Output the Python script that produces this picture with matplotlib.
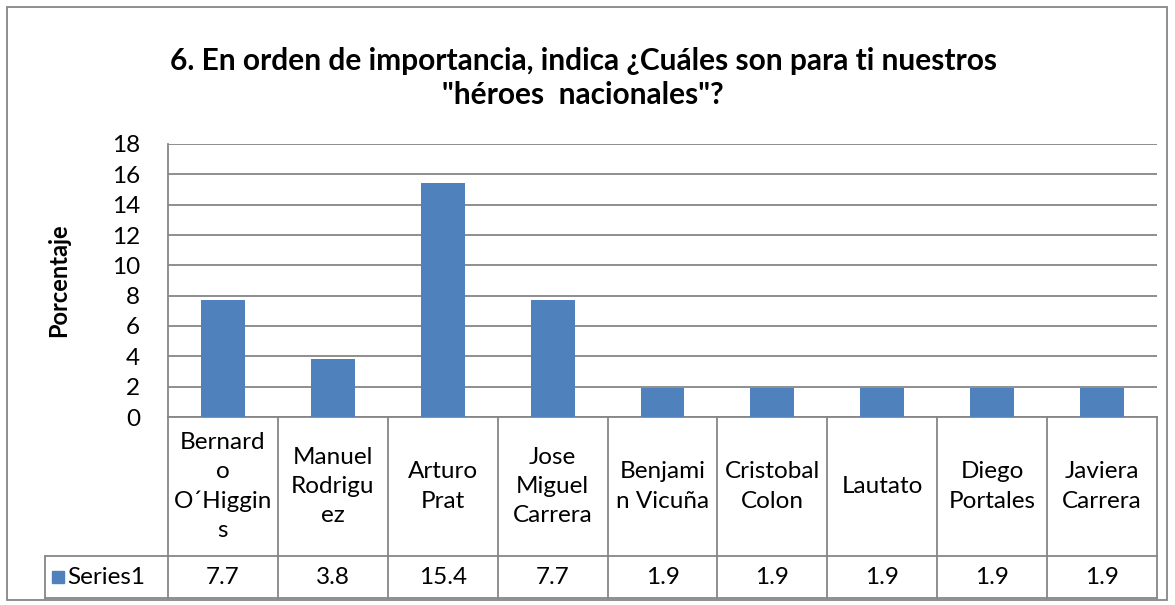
import numpy as np
import matplotlib.pyplot as plt
from matplotlib.patches import Rectangle
import matplotlib.transforms as mtransforms

plt.rcParams['font.family'] = ['Lato', 'DejaVu Sans']

title = '6. En orden de importancia, indica ¿Cuáles son para ti nuestros\n"héroes  nacionales"?'
categories = ['Bernard\no\nO´Higgin\ns', 'Manuel\nRodrigu\nez', 'Arturo\nPrat',
              'Jose\nMiguel\nCarrera', 'Benjami\nn Vicuña', 'Cristobal\nColon',
              'Lautato', 'Diego\nPortales', 'Javiera\nCarrera']
values = [7.7, 3.8, 15.4, 7.7, 1.9, 1.9, 1.9, 1.9, 1.9]
value_labels = ['7.7', '3.8', '15.4', '7.7', '1.9', '1.9', '1.9', '1.9', '1.9']
series_name = 'Series1'
yticks = list(range(0, 19, 2))

bar_color = '#4F81BD'
grid_color = '#868686'
fs = 17.5

W, H = 1175, 605
fig = plt.figure(figsize=(W / 100, H / 100), dpi=100)

# plot area in pixels
left, right, top, bottom = 168, 1157, 144, 417
ax = fig.add_axes([left / W, 1 - bottom / H, (right - left) / W, (bottom - top) / H])

x = np.arange(len(categories))
ax.bar(x, values, width=0.4, color=bar_color, zorder=3)
ax.set_xlim(-0.5, len(categories) - 0.5)
ax.set_ylim(0, 18)
ax.set_yticks(yticks)
ax.tick_params(axis='y', length=0, labelsize=fs, pad=20)
ax.set_xticks([])
ax.yaxis.grid(True, color=grid_color, linewidth=1.3, zorder=0)
for s in ['top', 'right']:
    ax.spines[s].set_visible(False)
ax.spines['left'].set_color(grid_color)
ax.spines['left'].set_linewidth(1.3)
ax.spines['bottom'].set_color(grid_color)
ax.spines['bottom'].set_linewidth(1.3)
ax.set_ylabel('Porcentaje', fontsize=17, fontweight='bold', labelpad=30)

# data table below the plot area
trans = mtransforms.blended_transform_factory(ax.transData, ax.transAxes)
h = bottom - top
row1 = (bottom - 556) / h
row2 = (bottom - 598) / h
unit = (right - left) / len(categories)
tab_left = -0.5 - (left - 45) / unit

for b in np.arange(-0.5, len(categories), 1.0):
    ax.plot([b, b], [0, row2], transform=trans, color=grid_color, lw=1.3, clip_on=False)
ax.plot([tab_left, len(categories) - 0.5], [row1, row1], transform=trans,
        color=grid_color, lw=1.3, clip_on=False)
ax.plot([tab_left, len(categories) - 0.5], [row2, row2], transform=trans,
        color=grid_color, lw=1.3, clip_on=False)
ax.plot([tab_left, tab_left], [row1, row2], transform=trans, color=grid_color,
        lw=1.3, clip_on=False)

for i, (cat, lab) in enumerate(zip(categories, value_labels)):
    ax.text(i, row1 / 2, cat, transform=trans, ha='center', va='center',
            fontsize=fs, linespacing=1.48, clip_on=False)
    ax.text(i, (row1 + row2) / 2, lab, transform=trans, ha='center', va='center',
            fontsize=fs, clip_on=False)

key_w = 12 / unit
ax.add_patch(Rectangle((tab_left + 7 / unit, (bottom - 583) / h), key_w, 12 / h,
                       transform=trans, color=bar_color, clip_on=False))
ax.text(tab_left + 22 / unit, (row1 + row2) / 2, series_name, transform=trans,
        ha='left', va='center', fontsize=fs, clip_on=False)

fig.text(583 / W, 1 - 78 / H, title, ha='center', va='center', fontsize=21.5,
         fontweight='bold', linespacing=1.3)

# outer chart border
fig.patches.append(Rectangle((7 / W, 1 - 600 / H), 1160 / W, 593 / H,
                             transform=fig.transFigure, fill=False,
                             edgecolor=grid_color, lw=1.3))

fig.savefig('out.png', dpi=100)
